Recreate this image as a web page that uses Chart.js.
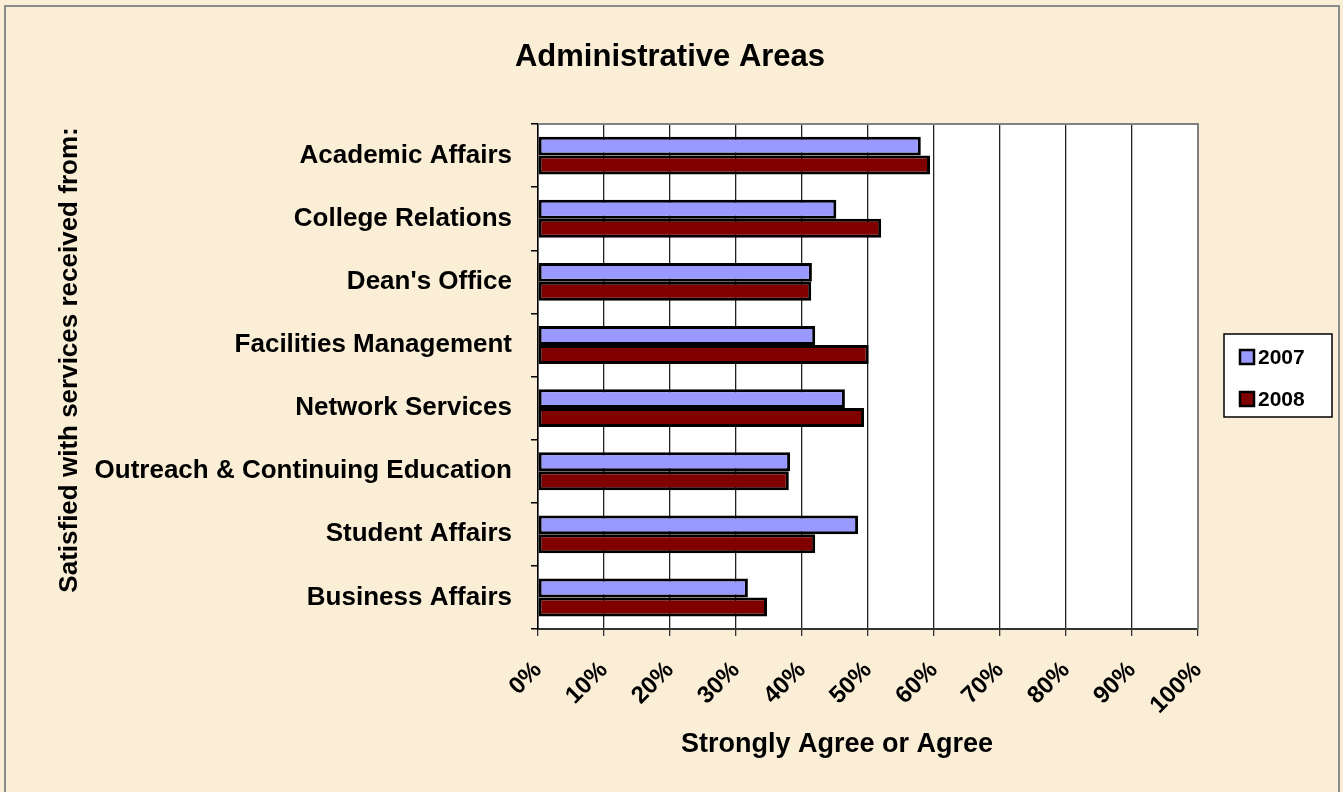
<!DOCTYPE html>
<html>
<head>
<meta charset="utf-8">
<title>Administrative Areas</title>
<script src="https://cdn.jsdelivr.net/npm/chart.js@4.4.1/dist/chart.umd.min.js"></script>
<style>
    html, body { margin: 0; padding: 0; background: #FAEED6; }
    #adminChart { display: block; }
</style>
</head>
<body>
<canvas id="adminChart" width="1343" height="792"></canvas>
<script>
// Dữ liệu (%)
const categories = [
    'Academic Affairs',
    'College Relations',
    "Dean's Office",
    'Facilities Management',
    'Network Services',
    'Outreach & Continuing Education',
    'Student Affairs',
    'Business Affairs'
];
const seriesNames = ['2007', '2008'];
const values2007 = [58.0, 45.2, 41.5, 42.0, 46.5, 38.2, 48.5, 31.8];
const values2008 = [59.4, 52.0, 41.4, 50.1, 49.4, 38.0, 42.0, 34.7];
const xTicks = [0, 10, 20, 30, 40, 50, 60, 70, 80, 90, 100];

const chartTitle = 'Administrative Areas';
const xAxisTitle = 'Strongly Agree or Agree';
const yAxisTitle = 'Satisfied with services received from:';

const FONT = '"Liberation Sans", Arial, sans-serif';

let adminChart;

// Vẽ nền, khung, tiêu đề và chú thích
const decorPlugin = {
    id: 'decor',
    beforeDraw(chart) {
        const ctx = chart.ctx;
        const area = chart.chartArea;
        ctx.save();
        ctx.fillStyle = '#FAEED6';
        ctx.fillRect(0, 0, chart.width, chart.height);

        // khung ngoài
        ctx.strokeStyle = '#8a8a8a';
        ctx.lineWidth = 2;
        ctx.beginPath();
        ctx.moveTo(5, chart.height);
        ctx.lineTo(5, 6);
        ctx.lineTo(1339, 6);
        ctx.lineTo(1339, chart.height);
        ctx.stroke();

        // vùng vẽ màu trắng
        ctx.fillStyle = '#ffffff';
        ctx.fillRect(area.left, area.top, area.right - area.left, area.bottom - area.top);
        ctx.restore();
    },
    afterDraw(chart) {
        const ctx = chart.ctx;
        const area = chart.chartArea;
        ctx.save();

        // viền vùng vẽ
        ctx.strokeStyle = '#808080';
        ctx.lineWidth = 2;
        ctx.beginPath();
        ctx.moveTo(area.left, area.top);
        ctx.lineTo(area.right, area.top);
        ctx.lineTo(area.right, area.bottom);
        ctx.stroke();

        ctx.fillStyle = '#000';
        ctx.textAlign = 'center';
        ctx.textBaseline = 'middle';

        ctx.font = 'bold 31px ' + FONT;
        ctx.fillText(chartTitle, 670, 57);

        ctx.font = 'bold 27px ' + FONT;
        ctx.fillText(xAxisTitle, 837, 745);

        ctx.save();
        ctx.translate(70, 360);
        ctx.rotate(-Math.PI / 2);
        ctx.font = 'bold 26px ' + FONT;
        ctx.fillText(yAxisTitle, 0, 0);
        ctx.restore();

        // chú thích
        ctx.fillStyle = '#ffffff';
        ctx.fillRect(1224, 334, 108, 83);
        ctx.strokeStyle = '#000';
        ctx.lineWidth = 1.5;
        ctx.strokeRect(1224, 334, 108, 83);

        ctx.textAlign = 'left';
        ctx.font = 'bold 21px ' + FONT;
        chart.data.datasets.forEach(function (ds, i) {
            const cy = 357 + i * 42;
            ctx.fillStyle = ds.backgroundColor;
            ctx.fillRect(1240, cy - 7, 14, 14);
            ctx.strokeStyle = '#000';
            ctx.lineWidth = 2.5;
            ctx.strokeRect(1240, cy - 7, 14, 14);
            ctx.fillStyle = '#000';
            ctx.fillText(ds.label, 1258, cy + 1);
        });
        ctx.restore();
    }
};

function buildChart() {
    const ctx = document.getElementById('adminChart').getContext('2d');

    if (adminChart) {
        adminChart.destroy();
    }

    adminChart = new Chart(ctx, {
        type: 'bar',
        data: {
            labels: categories,
            datasets: [{
                label: seriesNames[0],
                data: values2007,
                backgroundColor: '#9999FF',
                borderColor: '#000000',
                borderWidth: 3,
                borderSkipped: false
            }, {
                label: seriesNames[1],
                data: values2008,
                backgroundColor: '#800000',
                borderColor: '#000000',
                borderWidth: 3,
                borderSkipped: false
            }]
        },
        options: {
            indexAxis: 'y',
            responsive: false,
            animation: false,
            devicePixelRatio: 1,
            categoryPercentage: 0.6,
            barPercentage: 1,
            layout: {
                padding: { top: 124, right: 145, left: 0, bottom: 0 }
            },
            scales: {
                x: {
                    min: 0,
                    max: 100,
                    afterFit: function (scale) { scale.height = 163; },
                    afterBuildTicks: function (scale) {
                        scale.ticks = xTicks.map(function (v) { return { value: v }; });
                    },
                    grid: {
                        color: '#222',
                        lineWidth: 1.3,
                        tickLength: 7,
                        tickColor: '#333'
                    },
                    border: { display: true, color: '#333', width: 2 },
                    ticks: {
                        autoSkip: false,
                        minRotation: 45,
                        maxRotation: 45,
                        padding: 20,
                        color: '#000',
                        font: { family: FONT, size: 24, weight: 'bold' },
                        callback: function (value) { return value + '%'; }
                    }
                },
                y: {
                    afterFit: function (scale) { scale.width = 538; },
                    grid: {
                        drawOnChartArea: false,
                        tickLength: 7,
                        tickColor: '#000',
                        lineWidth: 1.5
                    },
                    border: { display: true, color: '#000', width: 1.5 },
                    ticks: {
                        padding: 19,
                        color: '#000',
                        font: { family: FONT, size: 26, weight: 'bold' }
                    }
                }
            },
            plugins: {
                legend: { display: false },
                title: { display: false },
                tooltip: { enabled: false }
            }
        },
        plugins: [decorPlugin]
    });
}

buildChart();
</script>
</body>
</html>
